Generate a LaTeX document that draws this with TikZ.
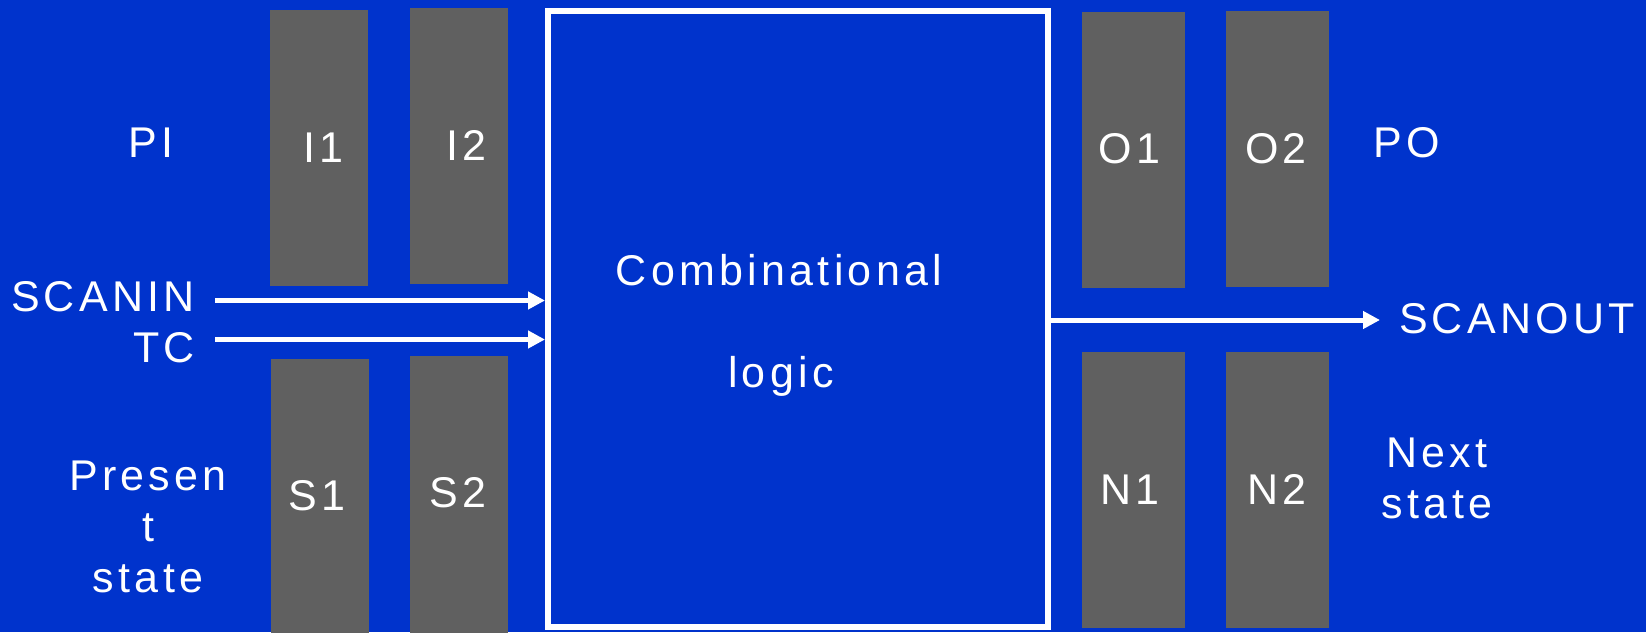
\documentclass[tikz,border=0pt]{standalone}
\usepackage{fontspec}
\setmainfont[LetterSpace=10]{Liberation Sans}
\usetikzlibrary{arrows.meta}
\definecolor{bgblue}{RGB}{0,51,204}
\definecolor{regray}{RGB}{96,96,96}
\begin{document}
\begin{tikzpicture}[x=1pt,y=-1pt,
  reg/.style={fill=regray, draw=none, inner sep=0pt, minimum width=#1},
  reg/.default=98pt,
  txt/.style={text=white, inner sep=0pt, anchor=base, font=\fontsize{43}{51}\selectfont},
  mtxt/.style={text=white, inner sep=0pt, align=center, anchor=base, font=\fontsize{43}{51}\selectfont},
  arr/.style={draw=white, line width=5pt, -{Triangle[length=17pt,width=17pt]}}
]
\useasboundingbox (0,0) rectangle (1646,632);
\fill[bgblue] (0,0) rectangle (1646,632);

% register blocks
\node[reg, minimum height=276pt] (I1) at (319,148) {};
\node[reg, minimum height=276pt] (I2) at (459,146) {};
\node[reg, minimum height=284pt] (S1) at (320,501) {};
\node[reg, minimum height=284pt] (S2) at (459,498) {};
\node[reg=103pt, minimum height=276pt] (O1) at (1133.5,150) {};
\node[reg=103pt, minimum height=276pt] (O2) at (1277.5,149) {};
\node[reg=103pt, minimum height=276pt] (N1) at (1133.5,490) {};
\node[reg=103pt, minimum height=276pt] (N2) at (1277.5,490) {};

% combinational logic block
\node[draw=white, line width=6pt, inner sep=0pt, minimum width=499.5pt, minimum height=616pt] (logic) at (797.75,319) {};

% labels
\node[txt] (I1t) at (323.5,162) {I1};
\node[txt] (I2t) at (466.5,160) {I2};
\node[txt] (S1t) at (317,510) {S1};
\node[txt] (S2t) at (458,507) {S2};
\node[txt] (O1t) at (1129.5,163) {O1};
\node[txt] (O2t) at (1276,163) {O2};
\node[txt] (N1t) at (1130,504) {N1};
\node[txt] (N2t) at (1277,504) {N2};
\node[txt] (PI) at (151,157) {PI};
\node[txt] (PO) at (1407,157) {PO};
\node[txt] (scanin) at (103,311) {SCANIN};
\node[txt] (tc) at (164,362) {TC};
\node[txt] (scanout) at (1517,333) {SCANOUT};
\node[txt] (comb) at (779,285) {Combinational};
\node[txt] (logict) at (781,387) {logic};
\node[mtxt] (present) at (148,592) {Presen\\t\\state};
\node[mtxt] (next) at (1437,518) {Next\\state};

% connectors
\coordinate (sinA) at (215,300.5);
\coordinate (tcA) at (215,339.5);
\coordinate (soB) at (1380,320);
\draw[arr] (sinA) -- (sinA -| logic.west);
\draw[arr] (tcA) -- (tcA -| logic.west);
\draw[arr] (soB -| logic.east) -- (soB);
\end{tikzpicture}
\end{document}
